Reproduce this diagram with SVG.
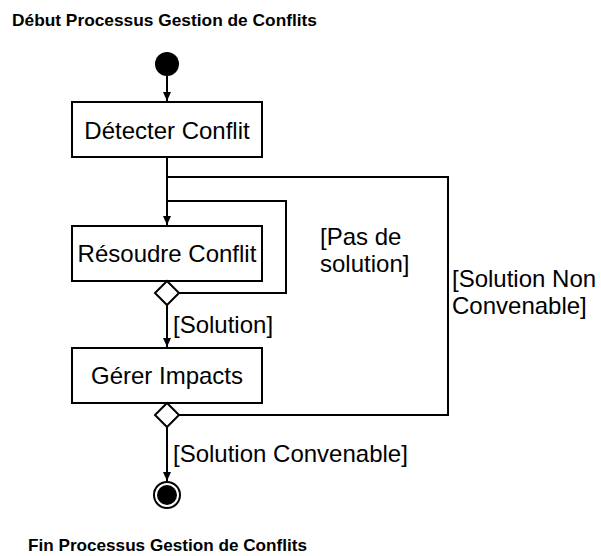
<svg xmlns="http://www.w3.org/2000/svg" width="601" height="556" viewBox="0 0 601 556">
<style>
.box{fill:#fff;stroke:#000;stroke-width:2}
.lbl{font-family:"Liberation Sans",Arial,sans-serif;font-size:24px;fill:#000}
.ttl{font-family:"Liberation Sans",Arial,sans-serif;font-size:17px;font-weight:bold;fill:#000}
.conn{fill:none;stroke:#000;stroke-width:2}
.dia{fill:#fff;stroke:#000;stroke-width:2}
</style>
<defs>
<marker id="arr" markerWidth="10" markerHeight="10" refX="9" refY="5" orient="auto" markerUnits="userSpaceOnUse">
<path d="M0,1 L9,5 L0,9 Z" fill="#000"/>
</marker>
</defs>
<rect width="601" height="556" fill="#fff"/>
<text class="ttl" x="12" y="26" textLength="305" lengthAdjust="spacingAndGlyphs">Début Processus Gestion de Conflits</text>
<text class="ttl" x="28" y="551" textLength="279" lengthAdjust="spacingAndGlyphs">Fin Processus Gestion de Conflits</text>
<g id="connectors">
<path class="conn" d="M167,76 V101" marker-end="url(#arr)"/>
<path class="conn" d="M167,157 V225" marker-end="url(#arr)"/>
<path class="conn" d="M179,293 H286 V201 H167"/>
<path class="conn" d="M167,305 V347" marker-end="url(#arr)"/>
<path class="conn" d="M179,415 H448 V177 H167"/>
<path class="conn" d="M167,427 V481" marker-end="url(#arr)"/>
<text class="lbl" x="173" y="333">[Solution]</text>
<text class="lbl" x="320" y="245">[Pas de</text>
<text class="lbl" x="320" y="272">solution]</text>
<text class="lbl" x="452" y="287">[Solution Non</text>
<text class="lbl" x="452" y="314">Convenable]</text>
<text class="lbl" x="173" y="462">[Solution Convenable]</text>
</g>
<g id="start">
<circle cx="167" cy="64" r="12" fill="#000"/>
</g>
<g id="detecter">
<rect class="box" x="72" y="102" width="190" height="55"/>
<text class="lbl" x="167" y="139" text-anchor="middle">Détecter Conflit</text>
</g>
<g id="resoudre">
<rect class="box" x="72" y="226" width="190" height="55"/>
<text class="lbl" x="167" y="262" text-anchor="middle">Résoudre Conflit</text>
</g>
<g id="decision1">
<path class="dia" d="M167,281 L179,293 L167,305 L155,293 Z"/>
</g>
<g id="gerer">
<rect class="box" x="72" y="348" width="190" height="55"/>
<text class="lbl" x="167" y="384" text-anchor="middle">Gérer Impacts</text>
</g>
<g id="decision2">
<path class="dia" d="M167,403 L179,415 L167,427 L155,415 Z"/>
</g>
<g id="end">
<circle cx="167" cy="495" r="13" fill="#fff" stroke="#000" stroke-width="2"/>
<circle cx="167" cy="495" r="10" fill="#000"/>
</g>
</svg>
